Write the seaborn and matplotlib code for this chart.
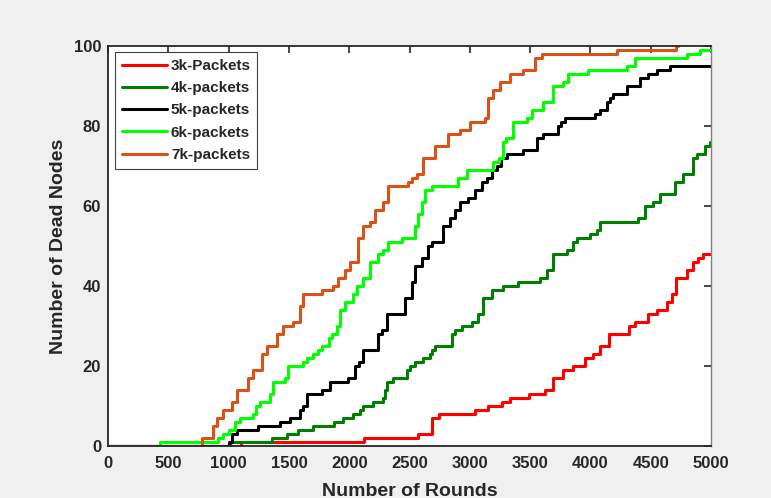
import matplotlib
matplotlib.use("Agg")
import matplotlib.pyplot as plt
import seaborn as sns
import pandas as pd

# Step breakpoints: the round at which each new count of dead nodes begins
rounds_3k = [0, 1100, 2120, 2570, 2690, 2745, 3043, 3150, 3265, 3333, 3490, 3624, 3690,
             3773, 3855, 3955, 4022, 4080, 4154, 4320, 4370, 4478, 4552, 4635, 4677, 4710,
             4800, 4851, 4892, 4934, 5000]
dead_3k = [0, 1, 2, 3, 7, 8, 9, 10, 11, 12, 13, 14, 17,
           19, 20, 22, 23, 25, 28, 30, 31, 33, 34, 36, 38, 42,
           44, 46, 47, 48, 48]

rounds_4k = [0, 1010, 1357, 1481, 1578, 1703, 1870, 1952, 2030, 2090, 2117, 2200, 2281,
             2300, 2311, 2366, 2480, 2504, 2546, 2615, 2670, 2690, 2711, 2850, 2877, 2933,
             3016, 3071, 3112, 3181, 3278, 3403, 3582, 3637, 3693, 3803, 3858, 3886, 3997,
             4052, 4080, 4397, 4453, 4522, 4577, 4701, 4771, 4853, 4881, 4950, 4990, 5000]
dead_4k = [0, 1, 2, 3, 4, 5, 6, 7, 8, 9, 10, 11, 12,
           14, 16, 17, 19, 20, 21, 22, 23, 24, 25, 28, 29, 30,
           31, 33, 37, 39, 40, 41, 42, 44, 48, 49, 51, 52, 53,
           54, 56, 57, 60, 61, 63, 66, 68, 72, 73, 75, 76, 76]

rounds_5k = [0, 1000, 1030, 1067, 1246, 1426, 1509, 1592, 1620, 1648, 1772, 1841, 1993,
             2048, 2080, 2117, 2241, 2270, 2311, 2463, 2518, 2546, 2601, 2656, 2684, 2780,
             2836, 2877, 2919, 2988, 3043, 3100, 3140, 3180, 3223, 3260, 3306, 3444, 3555,
             3610, 3734, 3760, 3789, 4038, 4080, 4135, 4160, 4190, 4300, 4411, 4480, 4550,
             4660, 5000]
dead_5k = [0, 1, 3, 4, 5, 6, 7, 9, 10, 13, 14, 16, 17,
           20, 21, 24, 28, 29, 33, 37, 41, 45, 47, 50, 51, 55,
           57, 59, 61, 62, 64, 66, 67, 69, 70, 72, 73, 74, 77,
           78, 80, 81, 82, 83, 84, 86, 87, 88, 90, 92, 93, 94,
           95, 95]

rounds_6k = [0, 430, 915, 956, 1000, 1053, 1095, 1205, 1230, 1260, 1343, 1371, 1468,
             1495, 1620, 1650, 1703, 1740, 1772, 1830, 1860, 1896, 1924, 1965, 2032,
             2062, 2117, 2172, 2241, 2283, 2324, 2435, 2546, 2574, 2600, 2629, 2684, 2905,
             2974, 3195, 3240, 3278, 3300, 3361, 3472, 3513, 3610, 3693, 3776, 3817, 3983,
             4300, 4370, 4798, 4909, 5000]
dead_6k = [0, 1, 2, 3, 4, 6, 7, 8, 10, 11, 13, 16, 17,
           20, 21, 22, 23, 24, 25, 27, 28, 30, 34, 36, 38,
           40, 42, 46, 48, 49, 51, 52, 55, 58, 61, 64, 65, 67,
           69, 71, 72, 76, 77, 81, 82, 84, 86, 90, 91, 93, 94,
           95, 97, 98, 99, 99]

rounds_7k = [0, 777, 873, 900, 956, 1025, 1067, 1164, 1205, 1274, 1316, 1399, 1454,
             1537, 1592, 1620, 1772, 1868, 1910, 1965, 2007, 2075, 2117, 2172, 2214,
             2283, 2324, 2490, 2520, 2560, 2615, 2711, 2822, 2919, 3002, 3126, 3153,
             3195, 3250, 3333, 3444, 3541, 3596, 4217, 4710, 4729]
dead_7k = [0, 2, 5, 7, 9, 11, 14, 17, 19, 23, 25, 28, 30,
           31, 35, 38, 39, 40, 42, 44, 46, 52, 55, 56, 59,
           61, 65, 66, 67, 68, 72, 75, 78, 79, 81, 82, 87,
           89, 91, 93, 94, 97, 98, 99, 100, 100]

series_names = ["3k-Packets", "4k-packets", "5k-packets", "6k-packets", "7k-packets"]
series_colors = ["#FF0000", "#007F00", "#000000", "#00FF00", "#D95319"]
x_ticks = [0, 500, 1000, 1500, 2000, 2500, 3000, 3500, 4000, 4500, 5000]
y_ticks = [0, 20, 40, 60, 80, 100]

frames = []
for name, r, d in zip(series_names,
                      [rounds_3k, rounds_4k, rounds_5k, rounds_6k, rounds_7k],
                      [dead_3k, dead_4k, dead_5k, dead_6k, dead_7k]):
    frames.append(pd.DataFrame({"Round": r, "Dead": d, "Series": name}))
df = pd.concat(frames, ignore_index=True)

sns.set_style("white")
plt.rcParams["font.family"] = ["Liberation Sans", "DejaVu Sans"]
plt.rcParams["font.weight"] = "bold"

fig = plt.figure(figsize=(7.71, 4.98), dpi=100, facecolor="#F0F0F0")
ax = fig.add_axes([108 / 771, 52 / 498, 603 / 771, 400 / 498])
ax.set_facecolor("white")

sns.lineplot(data=df, x="Round", y="Dead", hue="Series", hue_order=series_names,
             palette=dict(zip(series_names, series_colors)), estimator=None,
             drawstyle="steps-post", linewidth=2.2, ax=ax)

ax.set_xlim(0, 5000)
ax.set_ylim(0, 100)
ax.set_xticks(x_ticks)
ax.set_yticks(y_ticks)
ax.tick_params(direction="in", top=True, right=True, length=5, width=1.2,
               colors="#262626", labelsize=12)
ax.tick_params(axis="x", pad=7)
ax.tick_params(axis="y", pad=5)
for lab in ax.get_xticklabels() + ax.get_yticklabels():
    lab.set_fontweight("bold")

for side, spine in ax.spines.items():
    spine.set_visible(True)
    spine.set_color("#262626")
    spine.set_linewidth(1.3)
ax.spines["right"].set_color("#808080")
ax.spines["right"].set_linewidth(1.0)

ax.set_xlabel("Number of Rounds", fontsize=14, fontweight="bold", color="#262626", labelpad=8.5)
ax.set_ylabel("Number of Dead Nodes", fontsize=14, fontweight="bold", color="#262626", labelpad=5)

handles, labels = ax.get_legend_handles_labels()
leg = ax.legend(handles, labels, loc="upper left", bbox_to_anchor=(0.0116, 0.984),
                borderaxespad=0, fancybox=False, framealpha=1, edgecolor="#404040",
                prop={"weight": "bold", "size": 11}, handlelength=2.95,
                labelspacing=0.54, borderpad=0.43, handletextpad=0.28)
leg.get_frame().set_linewidth(0.8)

fig.savefig("out.png", dpi=100, facecolor=fig.get_facecolor())
